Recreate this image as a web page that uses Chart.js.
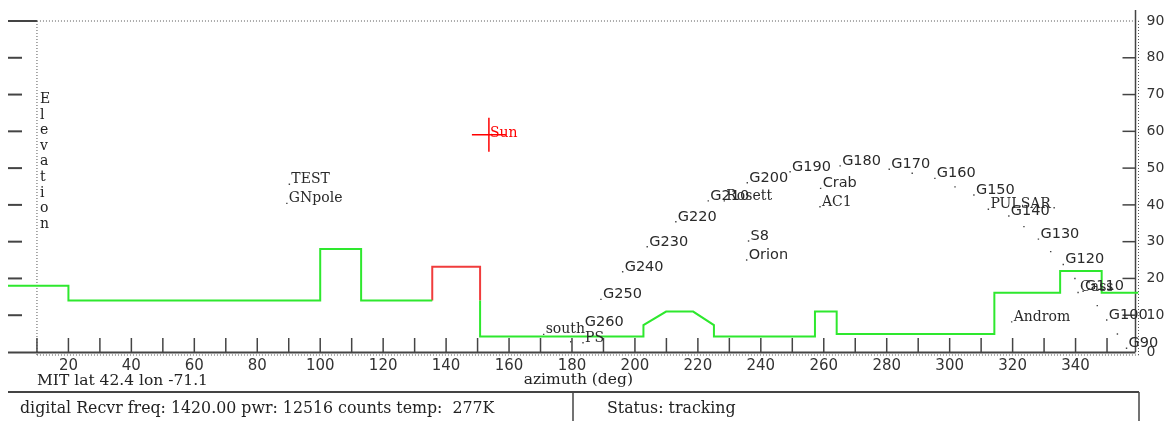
<!DOCTYPE html>
<html>
<head>
<meta charset="utf-8">
<script src="https://cdn.jsdelivr.net/npm/chart.js@4/dist/chart.umd.min.js"></script>
<style>
  html, body { margin: 0; padding: 0; background: #fff; }
  #wrap { position: relative; width: 1167px; height: 421px; }
</style>
</head>
<body>
<div id="wrap"><canvas id="skyChart" width="1167" height="421"></canvas></div>
<script>
// horizon profile (azimuth deg, elevation deg); null = gap where the red part is drawn
const horizonAz = [0.8, 20, 20, 100, 100, 113, 113, 135.6, 143, 150.8, 150.8, 202.7, 202.7, 209.9, 218.5, 225.1, 225.1, 257.2, 257.2, 264.1, 264.1, 314.2, 314.2, 335.1, 335.1, 348.3, 348.3, 360];
const horizonEl = [18, 18, 14, 14, 28, 28, 14, 14, null, 14, 4.2, 4.2, 7.3, 11, 11, 7.3, 4.2, 4.2, 11, 11, 4.9, 4.9, 16.1, 16.1, 22, 22, 16.1, 16.1];
const redAz = [135.6, 135.6, 150.8, 150.8];
const redEl = [14, 23.2, 23.2, 14];

// catalogue sources
const sourceNames = ['TEST', 'GNpole', 'south', 'PS', 'G260', 'G250', 'G240', 'G230', 'G220', 'G210', 'Rosett', 'G200', 'S8', 'Orion', 'G190', 'Crab', 'AC1', 'G180', 'G170', 'G160', 'G150', 'PULSAR', 'G140', 'G130', 'G120', 'Cass', 'G110', 'Androm', 'G100', 'G90'];
const sourceAz = [90.2, 89.4, 171.0, 183.5, 183.4, 189.2, 196.1, 203.9, 213.0, 223.3, 228.4, 235.7, 236.1, 235.5, 249.3, 259.0, 258.8, 265.2, 280.8, 295.3, 307.7, 312.3, 318.8, 328.2, 336.1, 340.8, 342.4, 319.7, 349.9, 356.2];
const sourceEl = [45.6, 40.4, 4.8, 2.5, 6.9, 14.3, 21.8, 28.6, 35.4, 41.1, 41.1, 46.0, 30.2, 25.0, 49.0, 44.5, 39.5, 50.6, 49.7, 47.2, 42.7, 38.8, 37.0, 30.7, 23.8, 16.2, 16.5, 8.2, 8.7, 1.0];

// unlabelled dots
const dotAz = [179.6, 288.1, 301.7, 323.6, 332.1, 339.8, 346.9, 353.3, 333.2];
const dotEl = [2.8, 48.6, 44.9, 34.1, 27.3, 20.0, 12.6, 4.9, 39.2];

const sunAz = [153.6];
const sunEl = [59.1];

// axes
const azTicks = [10, 20, 30, 40, 50, 60, 70, 80, 90, 100, 110, 120, 130, 140, 150, 160, 170, 180, 190, 200, 210, 220, 230, 240, 250, 260, 270, 280, 290, 300, 310, 320, 330, 340, 350];
const azLabels = [20, 40, 60, 80, 100, 120, 140, 160, 180, 200, 220, 240, 260, 280, 300, 320, 340];
const elTicks = [10, 20, 30, 40, 50, 60, 70, 80];
const elLabels = [0, 10, 20, 30, 40, 50, 60, 70, 80, 90];

const siteText = 'MIT lat 42.4 lon -71.1';
const axisTitle = 'azimuth (deg)';
const yTitle = 'Elevation';
const recvText = 'digital Recvr freq: 1420.00 pwr: 12516 counts temp:  277K';
const statusText = 'Status: tracking';

const serifNames = ['TEST', 'GNpole', 'south', 'PS', 'Rosett', 'AC1', 'PULSAR', 'Androm', 'Cass'];

const pts = (xs, ys) => xs.map((x, i) => ({ x: x, y: ys[i] }));

const SANS = 'DejaVu Sans, sans-serif';
const SERIF = 'DejaVu Serif, serif';

function dotted(ctx, x1, y1, x2, y2) {
  ctx.save();
  ctx.strokeStyle = '#555';
  ctx.lineWidth = 1;
  ctx.setLineDash([1, 2]);
  ctx.beginPath();
  ctx.moveTo(x1, y1);
  ctx.lineTo(x2, y2);
  ctx.stroke();
  ctx.restore();
}

function solid(ctx, x1, y1, x2, y2, w) {
  ctx.save();
  ctx.strokeStyle = '#444';
  ctx.lineWidth = w || 1.5;
  ctx.beginPath();
  ctx.moveTo(x1, y1);
  ctx.lineTo(x2, y2);
  ctx.stroke();
  ctx.restore();
}

// frame, ticks, axis text and status bar
const framePlugin = {
  id: 'frame',
  beforeDatasetsDraw(chart) {
    const { ctx, chartArea: a } = chart;
    const xs = chart.scales.x, ys = chart.scales.y;
    const x10 = xs.getPixelForValue(10);

    dotted(ctx, x10, a.top, a.right, a.top);
    dotted(ctx, x10, a.top, x10, a.bottom + 3);
    dotted(ctx, x10, a.bottom + 3, a.right, a.bottom + 3);
    dotted(ctx, a.right, a.top, a.right, a.bottom + 3);
    solid(ctx, a.left, a.top, x10, a.top, 2);
    solid(ctx, a.left, a.bottom + 0.5, a.right - 3, a.bottom + 0.5, 2);
    solid(ctx, a.right - 3, a.top - 11, a.right - 3, a.bottom, 1.5);

    azTicks.forEach(v => {
      const x = xs.getPixelForValue(v);
      solid(ctx, x, a.bottom - 14, x, a.bottom, 1.5);
    });
    elTicks.forEach(v => {
      const y = ys.getPixelForValue(v);
      solid(ctx, a.left, y, a.left + 14, y, 2);
      solid(ctx, a.right - 16, y, a.right - 3, y, 1.5);
    });

    ctx.save();
    ctx.fillStyle = '#333';
    ctx.font = '15px ' + SANS;
    ctx.textAlign = 'center';
    ctx.textBaseline = 'alphabetic';
    azLabels.forEach(v => ctx.fillText(String(v), xs.getPixelForValue(v), a.bottom + 18));
    ctx.font = '14px ' + SANS;
    ctx.textAlign = 'left';
    ctx.textBaseline = 'middle';
    elLabels.forEach(v => ctx.fillText(String(v), a.right + 8, ys.getPixelForValue(v)));

    ctx.textBaseline = 'alphabetic';
    ctx.font = '15.5px ' + SERIF;
    ctx.fillStyle = '#222';
    ctx.fillText(siteText, x10, a.bottom + 33);
    ctx.textAlign = 'center';
    ctx.fillText(axisTitle, xs.getPixelForValue(182), a.bottom + 32);

    ctx.font = '14px ' + SERIF;
    ctx.textAlign = 'left';
    yTitle.split('').forEach((ch, i) => ctx.fillText(ch, 40, 103 + i * 15.6));

    // status bar
    solid(ctx, a.left, 392, 1139, 392, 2);
    solid(ctx, 573, 392, 573, 421, 1.5);
    solid(ctx, 1139, 392, 1139, 421, 1.5);
    ctx.font = '15.8px ' + SERIF;
    ctx.fillStyle = '#222';
    ctx.fillText(recvText, 20, 413);
    ctx.fillText(statusText, 607, 413);
    ctx.restore();
  },
  afterDatasetsDraw(chart) {
    const { ctx } = chart;
    const xs = chart.scales.x, ys = chart.scales.y;
    ctx.save();
    ctx.textAlign = 'left';
    ctx.textBaseline = 'alphabetic';
    ctx.fillStyle = '#2a2a2a';
    sourceNames.forEach((name, i) => {
      ctx.font = serifNames.includes(name) ? '14px ' + SERIF : '14.5px ' + SANS;
      ctx.fillText(name, xs.getPixelForValue(sourceAz[i]) + 2, ys.getPixelForValue(sourceEl[i]) - 1);
    });
    ctx.fillStyle = '#f00';
    ctx.font = '14px ' + SERIF;
    ctx.fillText('Sun', xs.getPixelForValue(sunAz[0]) + 1, ys.getPixelForValue(sunEl[0]) + 2);
    ctx.restore();
  }
};

new Chart(document.getElementById('skyChart'), {
  type: 'scatter',
  data: {
    datasets: [
      {
        label: 'horizon',
        data: pts(horizonAz, horizonEl),
        showLine: true,
        spanGaps: false,
        borderColor: '#2ee82e',
        borderWidth: 2,
        pointRadius: 0
      },
      {
        label: 'horizon limit',
        data: pts(redAz, redEl),
        showLine: true,
        borderColor: '#f03c3c',
        borderWidth: 2,
        pointRadius: 0
      },
      {
        label: 'sources',
        data: pts(sourceAz, sourceEl),
        pointStyle: 'rect',
        pointRadius: 1,
        backgroundColor: '#444',
        borderWidth: 0
      },
      {
        label: 'dots',
        data: pts(dotAz, dotEl),
        pointStyle: 'rect',
        pointRadius: 1,
        backgroundColor: '#444',
        borderWidth: 0
      },
      {
        label: 'Sun',
        data: pts(sunAz, sunEl),
        pointStyle: 'cross',
        pointRadius: 17,
        borderColor: '#f00',
        borderWidth: 1.5
      }
    ]
  },
  options: {
    responsive: false,
    animation: false,
    devicePixelRatio: 1,
    layout: { autoPadding: false, padding: { left: 8, top: 21, right: 28.5, bottom: 69 } },
    plugins: {
      legend: { display: false },
      tooltip: { enabled: false }
    },
    scales: {
      x: { type: 'linear', min: 0.8, max: 360, display: false },
      y: { type: 'linear', min: 0, max: 90, display: false }
    }
  },
  plugins: [framePlugin]
});
</script>
</body>
</html>
